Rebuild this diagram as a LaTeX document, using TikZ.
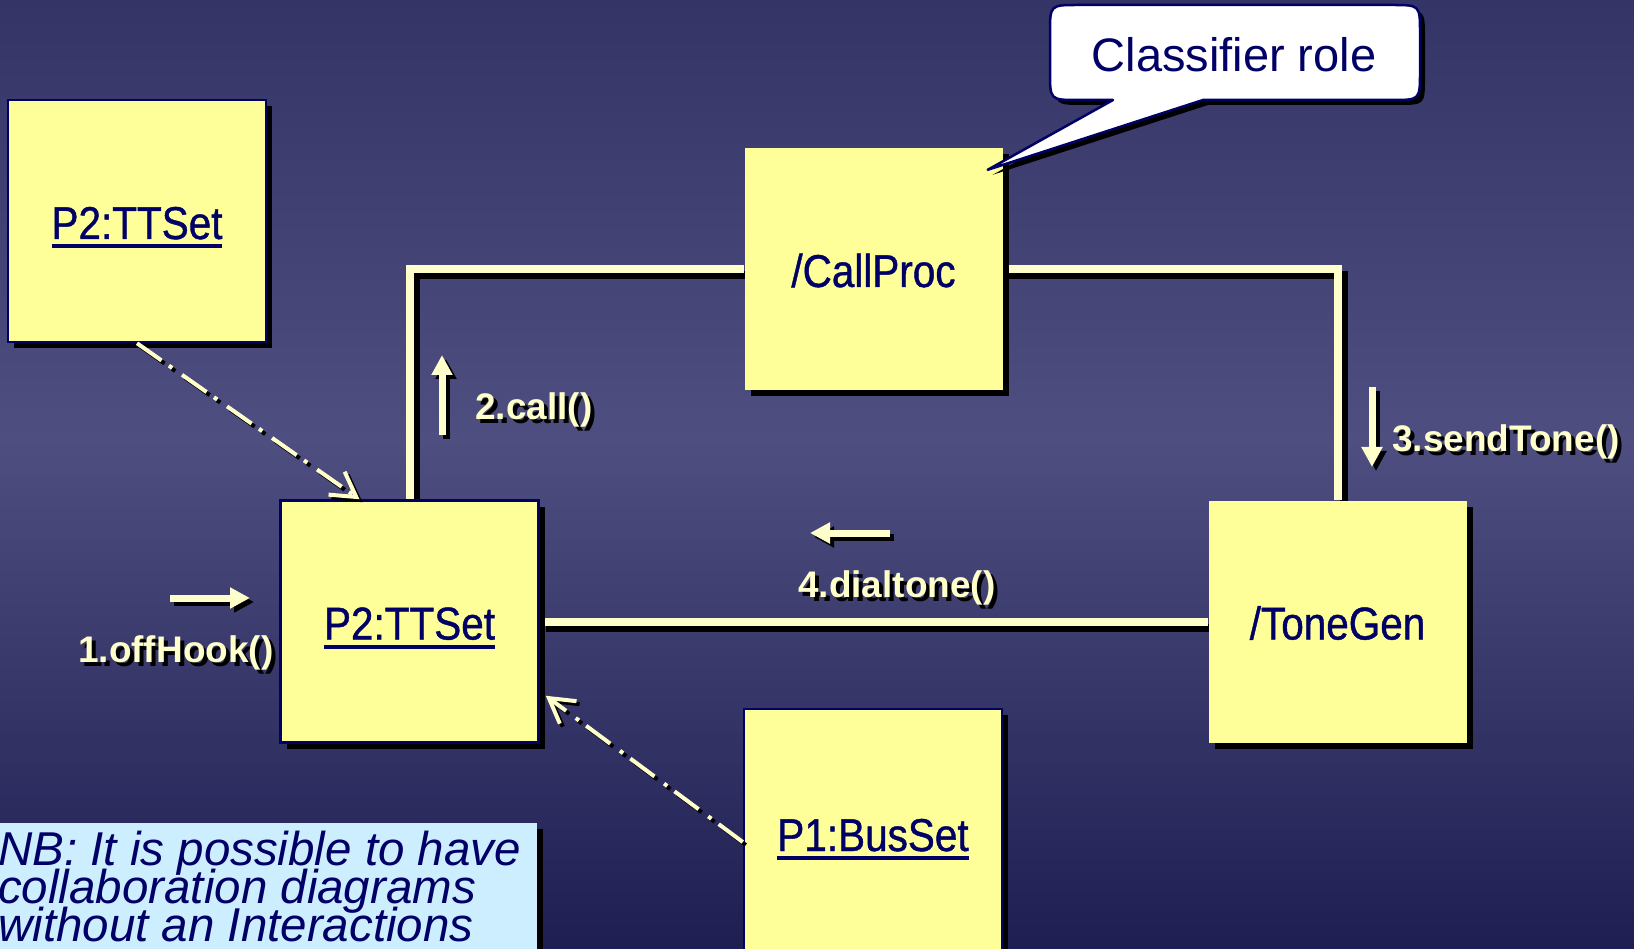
\documentclass[tikz,border=0pt]{standalone}
\usepackage{fontspec}
\setmainfont{Liberation Sans}
\newfontfamily\nodefont[FakeStretch=0.88,FakeBold=0.9]{Liberation Sans}
\usetikzlibrary{arrows.meta,shadows}

\definecolor{bgtop}{RGB}{52,52,102}
\definecolor{bgmid}{RGB}{78,78,128}
\definecolor{bgbot}{RGB}{30,30,82}
\definecolor{boxyellow}{RGB}{255,255,153}
\definecolor{linkyellow}{RGB}{255,255,204}
\definecolor{navy}{RGB}{0,0,102}
\definecolor{nbblue}{RGB}{204,238,255}

% thick underline for object names
\newsavebox\ulbox
\newcommand\uln[1]{\sbox\ulbox{#1}\rlap{\smash{\rule[-9pt]{\wd\ulbox}{4pt}}}\usebox\ulbox}
% text with a black drop shadow
\newcommand\shtext[1]{\rlap{\kern4pt\smash{\raisebox{-4pt}{\color{black}#1}}}#1}
% tightly spaced italic for the note
\newcommand\notefont{\itshape\fontsize{47.5}{38}\selectfont\lineskiplimit=-60pt\relax}

\pgfdeclarelayer{bg}
\pgfdeclarelayer{links}
\pgfsetlayers{bg,links,main}

\tikzset{
  objbox/.style={fill=boxyellow, inner sep=0pt, minimum width=258pt, minimum height=242pt,
    text height=36pt, text depth=0pt, text=navy, font=\nodefont\fontsize{46}{50}\selectfont,
    drop shadow={shadow xshift=6pt, shadow yshift=-6pt, fill=black, opacity=1}},
  instance/.style={objbox, draw=navy, line width=2.5pt},
  role/.style={objbox},
  link/.style={draw=linkyellow, line width=8pt},
  linkshade/.style={draw=black, line width=8pt, transform canvas={xshift=6pt,yshift=-6pt}},
  flow/.style={draw=linkyellow, line width=4pt, dash pattern=on 30pt off 9pt on 4pt off 12pt,
    -{Straight Barb[length=24pt,width=28pt]}},
  flowshade/.style={flow, draw=black, transform canvas={xshift=3pt,yshift=-3pt}},
  msgarrow/.style={draw=linkyellow, line width=7pt, -{Triangle[width=20pt,length=20pt]}},
  msgshade/.style={msgarrow, draw=black, transform canvas={xshift=4pt,yshift=-4pt}},
  msg/.style={anchor=base west, inner sep=0pt, text=linkyellow,
    font=\bfseries\fontsize{37}{40}\selectfont},
  note/.style={anchor=north west, inner sep=0pt, align=left, text=navy, font=\notefont},
  bubble/.style={fill=white, draw=navy, line width=2.5pt, line join=round},
  bubbletext/.style={inner sep=0pt, text height=34pt, text depth=0pt, text=navy,
    font=\fontsize{47}{50}\selectfont}
}

\begin{document}
\begin{tikzpicture}[x=1pt,y=-1pt]
\useasboundingbox (0,0) rectangle (1634,949);
\clip (0,0) rectangle (1634,949);

% background gradient
\begin{pgfonlayer}{bg}
  \shade[top color=bgtop, bottom color=bgmid] (0,0) rectangle (1634,440);
  \shade[top color=bgmid, bottom color=bgbot] (0,439) rectangle (1634,949);
\end{pgfonlayer}

% objects and roles
\node[instance] (p2a) at (137,221) {\uln{P2:TTSet}};
\node[role] (callproc) at (873.5,269) {/CallProc};
\node[instance] (p2b) at (409.5,621.5) {\uln{P2:TTSet}};
\node[role] (tonegen) at (1337.5,621.5) {/ToneGen};
\node[instance, minimum height=248pt] (p1) at (873,833) {\uln{P1:BusSet}};

% association links
\begin{pgfonlayer}{links}
  \draw[linkshade] (p2b.north) |- (callproc.west);
  \draw[linkshade] (callproc.east) -| (tonegen.north);
  \draw[linkshade] (p2b.east) -- (tonegen.west);
  \draw[link] (p2b.north) |- (callproc.west);
  \draw[link] (callproc.east) -| (tonegen.north);
  \draw[link] (p2b.east) -- (tonegen.west);
\end{pgfonlayer}

% dependency arrows
\draw[flowshade] (p2a.south) -- ([xshift=-50pt]p2b.north);
\draw[flow] (p2a.south) -- ([xshift=-50pt]p2b.north);
\draw[flowshade] ([yshift=-9pt]p1.west) -- ([xshift=6pt,yshift=48pt]p2b.south east);
\draw[flow] ([yshift=-9pt]p1.west) -- ([xshift=6pt,yshift=48pt]p2b.south east);

% message arrows
\coordinate (m1a) at (170,598);  \coordinate (m1b) at (250,598);
\coordinate (m2a) at (442,435);  \coordinate (m2b) at (442,355);
\coordinate (m3a) at (1372,387); \coordinate (m3b) at (1372,467);
\coordinate (m4a) at (890,533);  \coordinate (m4b) at (810,533);
\foreach \m in {1,2,3,4} {
  \draw[msgshade] (m\m a) -- (m\m b);
  \draw[msgarrow] (m\m a) -- (m\m b);
}

% message labels
\node[msg] (l1) at (78,662) {\shtext{1.offHook()}};
\node[msg] (l2) at (475,420) {\shtext{2.call()}};
\node[msg] (l3) at (1392,452) {\shtext{3.sendTone()}};
\node[msg] (l4) at (798,597) {\shtext{4.dialtone()}};

% callout
\coordinate (tip) at ([xshift=-15pt,yshift=-22pt]callproc.north east);
\fill[black, transform canvas={xshift=5pt,yshift=-5pt}]
  (1113,100) -- (1078,100) .. controls (1050,100) .. (1050,72)
  -- (1050,33) .. controls (1050,5) .. (1078,5)
  -- (1392,5) .. controls (1420,5) .. (1420,33)
  -- (1420,72) .. controls (1420,100) .. (1392,100)
  -- (1203,100) -- (tip) -- cycle;
\path[bubble]
  (1113,100) -- (1078,100) .. controls (1050,100) .. (1050,72)
  -- (1050,33) .. controls (1050,5) .. (1078,5)
  -- (1392,5) .. controls (1420,5) .. (1420,33)
  -- (1420,72) .. controls (1420,100) .. (1392,100)
  -- (1203,100) -- (tip) -- cycle;
\node[bubbletext] (callout) at (1234,55) {Classifier role};

% note box
\fill[black] (-10,829) rectangle (543,960);
\fill[nbblue] (-10,823) rectangle (537,960);
\node[note] (nb) at (-2,831) {NB: It is possible to have\\collaboration diagrams\\without an Interactions};
\end{tikzpicture}
\end{document}
